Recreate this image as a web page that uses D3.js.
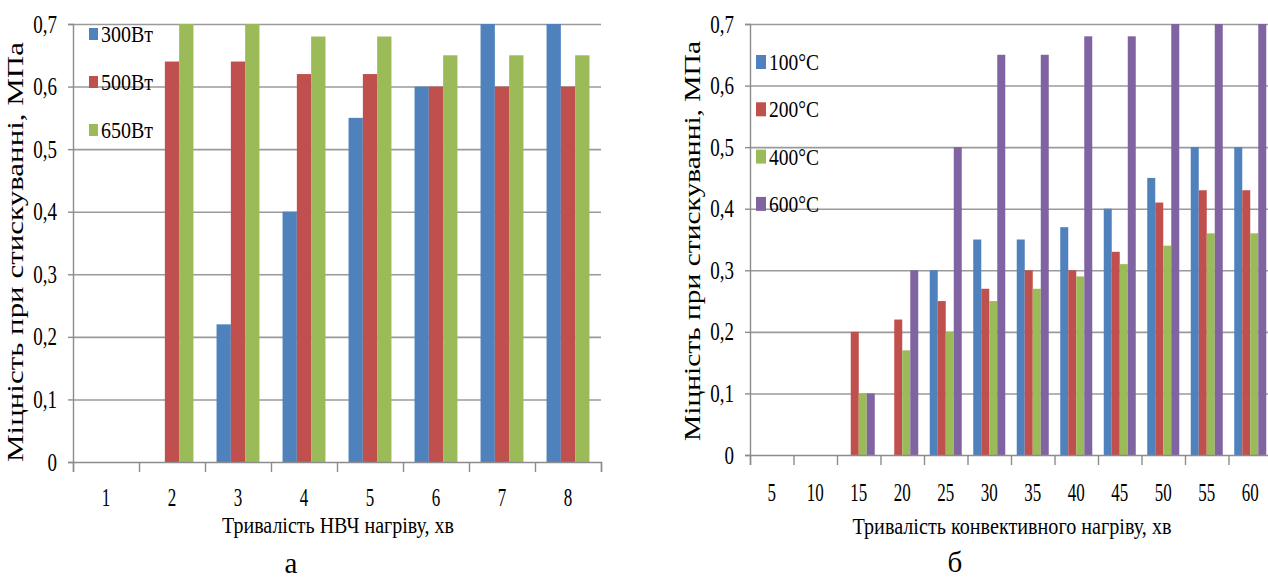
<!DOCTYPE html>
<html>
<head>
<meta charset="utf-8">
<script src="https://cdn.jsdelivr.net/npm/d3@7"></script>
<style>
  body { margin: 0; background: #fff; }
  svg { display: block; }
</style>
</head>
<body>
<div id="chart"></div>
<script>
// ---- data ----
var yTicks = [0, 0.1, 0.2, 0.3, 0.4, 0.5, 0.6, 0.7];

// chart a
var catsA = ["1", "2", "3", "4", "5", "6", "7", "8"];
var seriesA = ["300Вт", "500Вт", "650Вт"];
var w300 = [0, 0, 0.22, 0.40, 0.55, 0.60, 0.70, 0.70];
var w500 = [0, 0.64, 0.64, 0.62, 0.62, 0.60, 0.60, 0.60];
var w650 = [0, 0.70, 0.70, 0.68, 0.68, 0.65, 0.65, 0.65];

// chart б
var catsB = ["5", "10", "15", "20", "25", "30", "35", "40", "45", "50", "55", "60"];
var seriesB = ["100°C", "200°C", "400°C", "600°C"];
var t100 = [0, 0, 0, 0, 0.30, 0.35, 0.35, 0.37, 0.40, 0.45, 0.50, 0.50];
var t200 = [0, 0, 0.20, 0.22, 0.25, 0.27, 0.30, 0.30, 0.33, 0.41, 0.43, 0.43];
var t400 = [0, 0, 0.10, 0.17, 0.20, 0.25, 0.27, 0.29, 0.31, 0.34, 0.36, 0.36];
var t600 = [0, 0, 0.10, 0.30, 0.50, 0.65, 0.65, 0.68, 0.68, 0.70, 0.70, 0.70];

var colors = ["#4F81BD", "#C0504D", "#9BBB59", "#8064A2"];
var yTitle = "Міцність  при стискуванні, МПа";
var FONT = "'Liberation Serif', 'DejaVu Serif', 'Times New Roman', serif";

var svg = d3.select("#chart").append("svg")
    .attr("width", 1268)
    .attr("height", 581)
    .style("font-family", FONT);

// squeeze text horizontally like the original (narrow serif)
function squeeze(sel, k) {
    sel.each(function() {
        var w = this.getComputedTextLength();
        d3.select(this).attr("textLength", w * k).attr("lengthAdjust", "spacingAndGlyphs");
    });
}

function drawChart(opt) {
    var g = svg.append("g");

    var x = d3.scaleBand()
        .domain(opt.cats)
        .range([opt.left, opt.right])
        .paddingInner(opt.pad)
        .paddingOuter(opt.pad / 2);

    var xSub = d3.scaleBand()
        .domain(opt.series)
        .range([0, x.bandwidth()]);

    var y = d3.scaleLinear()
        .domain([0, 0.7])
        .range([opt.bottom, opt.top]);

    // gridlines
    g.append("g")
        .attr("class", "grid")
        .attr("transform", "translate(" + opt.left + ",0)")
        .call(d3.axisLeft(y).tickValues(yTicks.slice(1))
            .tickSize(-(opt.gridRight - opt.left))
            .tickFormat(""))
        .call(function(a) { a.select(".domain").remove(); })
        .selectAll("line")
        .attr("stroke", "#9a9a9a")
        .attr("stroke-width", 1.6);

    // bars
    var rows = opt.cats.map(function(c, i) {
        var r = { cat: c };
        opt.series.forEach(function(s, j) { r[s] = opt.values[j][i]; });
        return r;
    });

    g.append("g").selectAll("g")
        .data(rows)
        .join("g")
        .attr("transform", function(d) { return "translate(" + x(d.cat) + ",0)"; })
        .selectAll("rect")
        .data(function(d) { return opt.series.map(function(s, j) { return { key: s, value: d[s], j: j }; }); })
        .join("rect")
        .attr("x", function(d) { return xSub(d.key); })
        .attr("width", xSub.bandwidth())
        .attr("y", function(d) { return y(d.value); })
        .attr("height", function(d) { return y(0) - y(d.value); })
        .attr("fill", function(d) { return colors[d.j]; });

    // y axis
    var yAxis = g.append("g")
        .attr("transform", "translate(" + opt.left + ",0)")
        .call(d3.axisLeft(y).tickValues(yTicks)
            .tickSize(5).tickPadding(11)
            .tickFormat(function(d) { return d === 0 ? "0" : d3.format(".1f")(d).replace(".", ","); }));
    yAxis.attr("font-family", null);
    yAxis.selectAll("line, path").attr("stroke", "#8c8c8c").attr("stroke-width", 1.4);
    yAxis.selectAll("text").attr("font-size", 25).style("font-family", FONT);
    squeeze(yAxis.selectAll("text"), 0.76);

    // x axis: tick marks on category borders
    var xb = d3.scaleLinear().domain([0, opt.cats.length]).range([opt.left, opt.right]);
    var xTickAxis = g.append("g")
        .attr("transform", "translate(0," + opt.bottom + ")")
        .call(d3.axisBottom(xb).ticks(opt.cats.length).tickSize(10).tickFormat(""));
    xTickAxis.selectAll("line, path").attr("stroke", "#8c8c8c").attr("stroke-width", 1.4);

    var xLab = g.append("g")
        .attr("transform", "translate(0," + opt.bottom + ")")
        .call(d3.axisBottom(x).tickSize(0).tickPadding(opt.xPad));
    xLab.attr("font-family", null);
    xLab.select(".domain").remove();
    xLab.selectAll("text").attr("font-size", 25).style("font-family", FONT);
    squeeze(xLab.selectAll("text"), 0.68);

    // axis titles
    g.append("text")
        .attr("x", opt.xTitleX)
        .attr("y", opt.xTitleY)
        .attr("text-anchor", "middle")
        .attr("font-size", 24)
        .style("font-family", FONT)
        .attr("textLength", opt.xTitleLen)
        .attr("lengthAdjust", "spacingAndGlyphs")
        .text(opt.xTitle);

    g.append("text")
        .attr("transform", "translate(" + opt.yTitleX + "," + opt.yTitleY + ") rotate(-90)")
        .attr("text-anchor", "middle")
        .attr("font-size", 23)
        .style("font-family", FONT)
        .attr("textLength", opt.yTitleLen)
        .attr("lengthAdjust", "spacingAndGlyphs")
        .text(yTitle);

    // legend
    var leg = g.append("g").selectAll("g")
        .data(opt.series)
        .join("g")
        .attr("transform", function(d, i) { return "translate(" + opt.legX + "," + (opt.legY + i * opt.legStep) + ")"; });
    leg.append("rect")
        .attr("x", 0).attr("y", -opt.sqH / 2)
        .attr("width", opt.sqW).attr("height", opt.sqH)
        .attr("fill", function(d, i) { return colors[i]; });
    leg.append("text")
        .attr("x", opt.sqW + 3)
        .attr("dy", "0.34em")
        .attr("font-size", 24)
        .style("font-family", FONT)
        .attr("textLength", opt.legLen)
        .attr("lengthAdjust", "spacingAndGlyphs")
        .text(function(d) { return d; });

    // caption
    g.append("text")
        .attr("x", opt.capX)
        .attr("y", opt.capY)
        .attr("text-anchor", "middle")
        .attr("font-size", 29)
        .style("font-family", FONT)
        .text(opt.caption);
}

drawChart({
    cats: catsA, series: seriesA, values: [w300, w500, w650],
    left: 73, right: 601, gridRight: 601, top: 24, bottom: 462, pad: 0.35, xPad: 26,
    xTitle: "Тривалість НВЧ нагріву, хв", xTitleX: 338, xTitleY: 533, xTitleLen: 232,
    yTitleX: 23, yTitleY: 252, yTitleLen: 420,
    legX: 89, legY: 34, legStep: 48, sqW: 9, sqH: 12, legLen: 52,
    caption: "а", capX: 291, capY: 573
});

drawChart({
    cats: catsB, series: seriesB, values: [t100, t200, t400, t600],
    left: 750, right: 1272, gridRight: 1272, top: 24, bottom: 455, pad: 0.264, xPad: 28,
    xTitle: "Тривалість конвективного нагріву, хв", xTitleX: 1012, xTitleY: 534, xTitleLen: 319,
    yTitleX: 700, yTitleY: 241, yTitleLen: 400,
    legX: 756, legY: 62, legStep: 47.3, sqW: 10, sqH: 14, legLen: 50,
    caption: "б", capX: 955, capY: 572
});
</script>
</body>
</html>
